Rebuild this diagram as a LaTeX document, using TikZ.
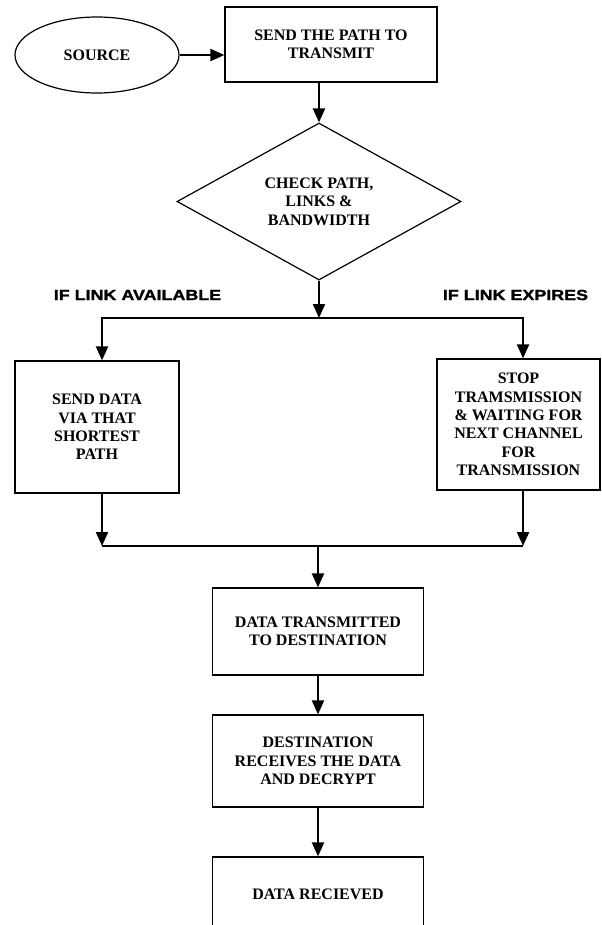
\documentclass[tikz,border=0pt]{standalone}
\usepackage{fontspec}
\setmainfont{Liberation Serif}
\newfontfamily\labelfont[BoldFeatures={FakeStretch=1.22,FakeBold=1.6}]{Liberation Sans}
\usetikzlibrary{shapes,arrows.meta}

% one screen pixel
\newcommand{\px}{0.75pt}

\begin{document}
\begin{tikzpicture}[x={(0.75pt,0)}, y={(0,-0.75pt)},
				terminal/.style={
				% The shape:
				ellipse,
				% The size:
				minimum width=164*\px, minimum height=76*\px, inner sep=0pt,
				% The border:
				draw=black, line width=0.9pt,
				% Font
				font=\bfseries\fontsize{12}{13.75}\selectfont
				},
				process/.style={
				% The shape:
				rectangle,
				% The size:
				inner sep=0pt,
				% The border:
				draw=black, line width=0.9pt,
				% Font
				font=\bfseries\fontsize{12}{13.75}\selectfont
				},
				decision/.style={
				% The shape:
				diamond, aspect=1.81,
				% The size:
				minimum width=284*\px, minimum height=157*\px, inner sep=0pt,
				% The border:
				draw=black, line width=0.9pt,
				% Font
				font=\bfseries\fontsize{12}{13.75}\selectfont
				},
				branch/.style={
				% Font
				font=\labelfont\bfseries\fontsize{11}{13}\selectfont
				},
				arr/.style={line width=1.6pt, -{Triangle[length=10.5pt,width=9pt]}},
				]
    \tikzstyle{every node} = [align=center]
    \useasboundingbox (0,0) rectangle (601,925);
    \clip (0,0) rectangle (601,925);

    % the boxes
    \node [terminal] (source) at (97,55) {SOURCE};
    \node [process, minimum width=212*\px, minimum height=75*\px] (sendpath) at (331,44.5) {SEND THE PATH TO\\TRANSMIT};
    \node [decision] (check) at (319,201.5) {CHECK PATH,\\LINKS \&\\BANDWIDTH};
    \node [process, minimum width=164*\px, minimum height=132*\px] (senddata) at (97,427) {SEND DATA\\VIA THAT\\SHORTEST\\PATH};
    \node [process, minimum width=163*\px, minimum height=131*\px] (stop) at (518.5,424.5) {STOP\\TRAMSMISSION\\\& WAITING FOR\\NEXT CHANNEL\\FOR\\TRANSMISSION};
    \node [process, minimum width=211*\px, minimum height=87*\px] (transmitted) at (318,631.5) {DATA TRANSMITTED\\TO DESTINATION};
    \node [process, minimum width=211*\px, minimum height=92*\px] (decrypt) at (318,761) {DESTINATION\\RECEIVES THE DATA\\AND DECRYPT};
    \node [process, minimum width=211*\px, minimum height=74*\px] (received) at (318,894) {DATA RECIEVED};

    % branch labels
    \node [branch] (avail) at (137.5,295) {IF LINK AVAILABLE};
    \node [branch] (expire) at (515.5,295) {IF LINK EXPIRES};

    \coordinate (split) at (319,318);
    \coordinate (join) at (318,546);

    % the arrows
    \draw [arr] (source.east) -- (source.east -| sendpath.west);
    \draw [arr] (sendpath.south -| check.north) -- (check.north);
    \draw [arr] (check.south) -- (split);
    \draw [arr] (split) -| ([xshift=3.75pt]senddata.north);
    \draw [arr] (split) -| ([xshift=3.4pt]stop.north);
    \draw [arr] ([xshift=3.75pt]senddata.south) -- ([xshift=3.75pt]senddata.south |- join);
    \draw [arr] ([xshift=3.4pt]stop.south) -- ([xshift=3.4pt]stop.south |- join);
    \draw [line width=1pt] ([xshift=3.75pt]senddata.south |- join) -- ([xshift=3.4pt]stop.south |- join);
    \draw [arr] (join) -- (transmitted.north);
    \draw [arr] (transmitted.south) -- (decrypt.north);
    \draw [arr] (decrypt.south) -- (received.north);
\end{tikzpicture}
\end{document}
